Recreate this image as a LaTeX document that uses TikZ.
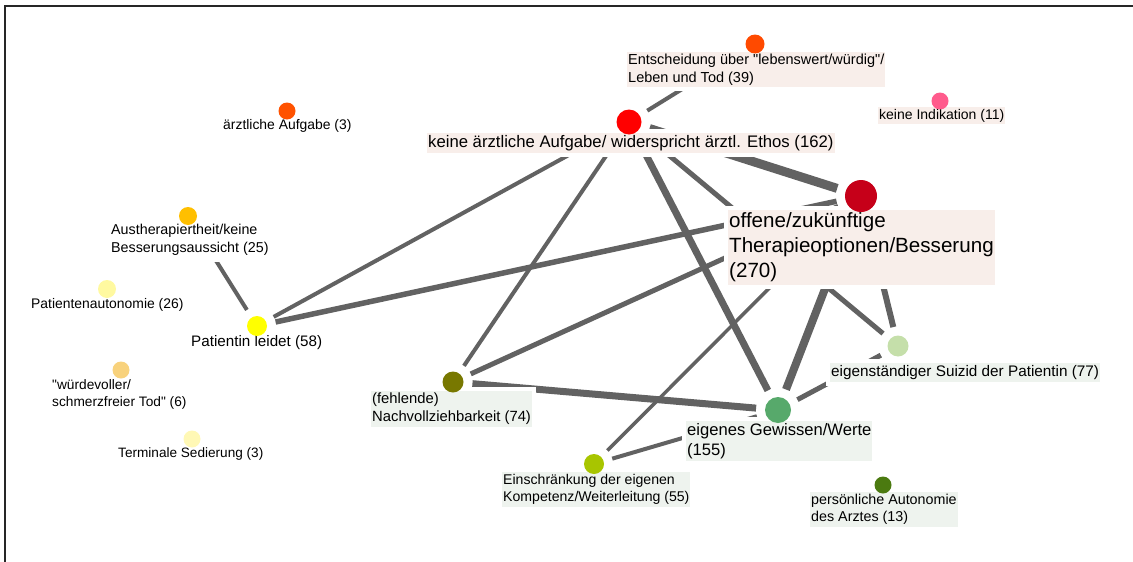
\documentclass[tikz,border=0pt]{standalone}
\usepackage{fontspec}
\setmainfont{Liberation Sans}[Ligatures=TeXOff]
\usetikzlibrary{backgrounds}

% node fills
\definecolor{cE}{HTML}{FF4A00}
\definecolor{cK}{HTML}{FF0000}
\definecolor{cI}{HTML}{FF5B8C}
\definecolor{cO}{HTML}{C60019}
\definecolor{cA}{HTML}{FF5200}
\definecolor{cT}{HTML}{FFBF00}
\definecolor{cPA}{HTML}{FFF9A0}
\definecolor{cPL}{HTML}{FFFF00}
\definecolor{cW}{HTML}{F8D27C}
\definecolor{cTS}{HTML}{FFF8B5}
\definecolor{cN}{HTML}{787800}
\definecolor{cG}{HTML}{57A96B}
\definecolor{cS}{HTML}{C5DFAA}
\definecolor{cES}{HTML}{A8C500}
\definecolor{cPAut}{HTML}{4B7A10}
% label backgrounds and links
\definecolor{pinkbg}{HTML}{F8EEEA}
\definecolor{greenbg}{HTML}{EEF3EE}
\definecolor{edgegray}{HTML}{626262}

\newcommand\lblfont[2]{\fontsize{#1pt}{#2pt}\selectfont}

\tikzset{
  dot/.style={circle, inner sep=0pt, outer sep=9pt, minimum size=#1},
  lab/.style={anchor=north west, inner xsep=1pt, inner ysep=0pt, align=left,
              fill=#1, preaction={draw=white, line width=8pt}},
  link/.style={draw=edgegray, line width=#1},
  frame/.style={draw=black!85, line width=2pt},
}

\begin{document}
\begin{tikzpicture}[x=1pt, y=-1pt]
\useasboundingbox (0,0) rectangle (1133,562);
\draw[frame] (5,562) -- (5,5.5) -- (1133,5.5);

% ---- labels ----
\node[lab=pinkbg, font=\lblfont{14.5}{17.6}] (lE) at (627,52)
  {\strut Entscheidung über "lebenswert/würdig"/\\\strut Leben und Tod (39)};
\node[lab=pinkbg, font=\lblfont{16.7}{20}] (lK) at (427,133)
  {\strut keine ärztliche Aufgabe/ widerspricht ärztl. Ethos (162)};
\node[lab=pinkbg, font=\lblfont{14}{17}] (lI) at (878,107)
  {\strut keine Indikation (11)};
\node[lab=pinkbg, font=\lblfont{20.6}{25}] (lO) at (728,210)
  {\strut offene/zukünftige\\\strut Therapieoptionen/Besserung\\\strut (270)};
\node[lab=white, font=\lblfont{13.9}{17}] (lA) at (222,117.5)
  {\strut ärztliche Aufgabe (3)};
\node[lab=white, font=\lblfont{14.3}{18}] (lT) at (110,222)
  {\strut Austherapiertheit/keine\\\strut Besserungsaussicht (25)};
\node[lab=white, font=\lblfont{13.9}{17}] (lPA) at (30,296.5)
  {\strut Patientenautonomie (26)};
\node[lab=white, font=\lblfont{15.2}{18}] (lPL) at (190,334)
  {\strut Patientin leidet (58)};
\node[lab=white, font=\lblfont{13.7}{17}] (lW) at (51,377.5)
  {\strut "würdevoller/\\\strut schmerzfreier Tod" (6)};
\node[lab=white, font=\lblfont{13.6}{17}] (lTS) at (117,445.5)
  {\strut Terminale Sedierung (3)};
\node[lab=greenbg, font=\lblfont{14.8}{18}] (lN) at (371,391)
  {\strut (fehlende)\\\strut Nachvollziehbarkeit (74)};
\node[lab=greenbg, font=\lblfont{16.6}{20}] (lG) at (686,421)
  {\strut eigenes Gewissen/Werte\\\strut (155)};
\node[lab=greenbg, font=\lblfont{15.3}{19}] (lS) at (830,363)
  {\strut eigenständiger Suizid der Patientin (77)};
\node[lab=greenbg, font=\lblfont{14.1}{17.5}] (lES) at (502,472)
  {\strut Einschränkung der eigenen\\\strut Kompetenz/Weiterleitung (55)};
\node[lab=greenbg, font=\lblfont{14.3}{17.5}] (lPAut) at (810,492)
  {\strut persönliche Autonomie\\\strut des Arztes (13)};

% ---- category dots ----
\node[dot=19pt, fill=cE] (E) at (755,44) {};
\node[dot=25pt, fill=cK] (K) at (629,122) {};
\node[dot=17pt, fill=cI] (I) at (940,101) {};
\node[dot=32pt, fill=cO] (O) at (861,196) {};
\node[dot=17pt, fill=cA] (A) at (287,111) {};
\node[dot=18pt, fill=cT] (T) at (188,216) {};
\node[dot=18pt, fill=cPA] (PA) at (107,289) {};
\node[dot=20pt, fill=cPL] (PL) at (257,326) {};
\node[dot=17pt, fill=cW] (W) at (121,370) {};
\node[dot=17pt, fill=cTS] (TS) at (192,439) {};
\node[dot=21pt, fill=cN] (N) at (453,382) {};
\node[dot=26pt, fill=cG] (G) at (778,410) {};
\node[dot=21pt, fill=cS] (S) at (898,346) {};
\node[dot=20pt, fill=cES] (ES) at (594,464) {};
\node[dot=17pt, fill=cPAut] (PAut) at (883,485) {};

% ---- co-occurrence links ----
\begin{scope}[on background layer]
  \draw[link=4pt]   (K) -- (E);
  \draw[link=9pt]   (K) -- (O);
  \draw[link=4pt]   (K) -- (PL);
  \draw[link=4pt]   (K) -- (N);
  \draw[link=7pt]   (K) -- (G);
  \draw[link=5pt]   (K) -- (S);
  \draw[link=5.5pt] (O) -- (PL);
  \draw[link=5pt]   (O) -- (N);
  \draw[link=3.5pt] (O) -- (ES);
  \draw[link=8pt]   (O) -- (G);
  \draw[link=6pt]   (O) -- (S);
  \draw[link=7pt]   (N) -- (G);
  \draw[link=4pt]   (ES) -- (G);
  \draw[link=5pt]   (G) -- (S);
  \draw[link=4pt]   (T) -- (PL);
\end{scope}
\end{tikzpicture}
\end{document}
